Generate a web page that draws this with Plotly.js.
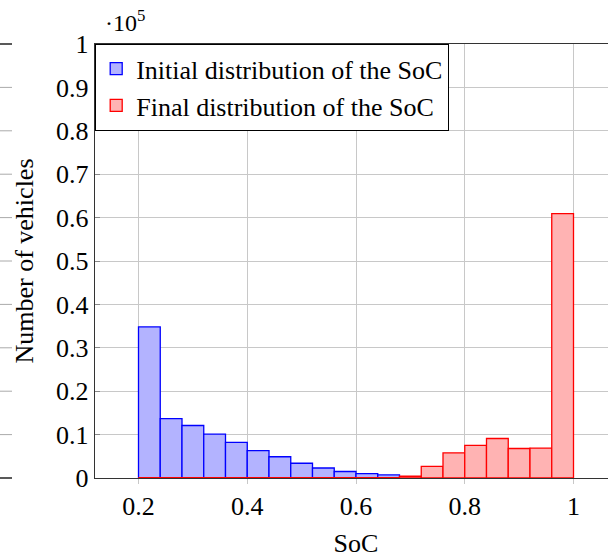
<!DOCTYPE html>
<html>
<head>
<meta charset="utf-8">
<script src="https://cdn.plot.ly/plotly-3.0.1.min.js"></script>
<style>
  html, body { margin: 0; padding: 0; overflow: hidden; background: #fff; }
  #chart { width: 640px; height: 558px; }
</style>
</head>
<body>
<div id="chart"></div>
<script>
// Bin edges of the SoC histogram (width 0.04)
const binEdges = [0.20,0.24,0.28,0.32,0.36,0.40,0.44,0.48,0.52,0.56,0.60,
                  0.64,0.68,0.72,0.76,0.80,0.84,0.88,0.92,0.96,1.00];
// Number of vehicles per bin
const initialCounts = [34800,13700,12100,10100,8200,6300,4900,3400,2300,1500,1000,700,
                       0,0,0,0,0,0,0,0];
const finalCounts   = [0,0,0,0,0,0,0,0,0,0,0,0,
                       400,2700,5800,7500,9100,6800,6900,60900];
// Axis ticks
const xTickVals = [0.2,0.4,0.6,0.8,1];
const xTickText = ['0.2','0.4','0.6','0.8','1'];
const yTickVals = [0,10000,20000,30000,40000,50000,60000,70000,80000,90000,100000];
const yTickText = ['0','0.1','0.2','0.3','0.4','0.5','0.6','0.7','0.8','0.9','1'];
const yScaleLabel = '·10<sup>5</sup>';

const FONT = "'Liberation Serif'";
const centers = binEdges.slice(0,-1).map((e,i)=> (e+binEdges[i+1])/2);
const widths = binEdges.slice(0,-1).map((e,i)=> binEdges[i+1]-e);

// zero-height bins of the final distribution drawn as a baseline
function zeroRuns(counts){
  const xs=[], ys=[];
  let i=0;
  while(i<counts.length){
    if(counts[i]===0){
      let j=i; while(j<counts.length && counts[j]===0) j++;
      xs.push(binEdges[i], binEdges[j], null); ys.push(0,0,null);
      i=j;
    } else i++;
  }
  return {xs, ys};
}
const zf = zeroRuns(finalCounts);

const traces = [
  {type:'bar', x:centers, y:initialCounts, width:widths, name:'Initial distribution of the SoC',
   marker:{color:'rgb(179,179,255)', line:{color:'rgb(0,0,255)', width:1.3}}, cliponaxis:false},
  {type:'bar', x:centers, y:finalCounts, width:widths, name:'Final distribution of the SoC',
   marker:{color:'rgb(255,179,179)', line:{color:'rgb(255,0,0)', width:1.3}}, cliponaxis:false},
  {type:'scatter', mode:'lines', x:zf.xs, y:zf.ys, showlegend:false, hoverinfo:'skip',
   line:{color:'rgb(255,0,0)', width:1.8}, cliponaxis:false}
];

// small tick stubs at the far left edge of the figure
const PW = 522, ML = 95;
const shapes = yTickVals.map((v,i)=>({
  type:'line', xref:'paper', yref:'paper',
  x0:-ML/PW, x1:(12-ML)/PW, y0:v/100000, y1:v/100000,
  line:{color:(i===0||i===yTickVals.length-1)?'#222':'#aaa', width:(i===0||i===yTickVals.length-1)?1.5:1}
}));

const layout = {
  width:640, height:558,
  margin:{l:ML, r:640-ML-PW, t:44, b:80, pad:0},
  paper_bgcolor:'#fff', plot_bgcolor:'#fff',
  barmode:'overlay', bargap:0,
  font:{family:FONT, size:26, color:'#000'},
  xaxis:{range:[0.12,1.08], tickvals:xTickVals, ticktext:xTickText,
         showgrid:true, gridcolor:'#c8c8c8', gridwidth:1,
         showline:true, linecolor:'#333', linewidth:1.2, mirror:true,
         ticks:'outside', ticklen:5, tickcolor:'#c8c8c8', tickwidth:1,
         zeroline:false, layer:'below traces',
         tickfont:{family:FONT, size:26, color:'#000'},
         title:{text:'SoC', font:{family:FONT, size:26, color:'#000'}, standoff:14}},
  xaxis2:{range:[0.12,1.08], overlaying:'x', side:'top', anchor:'y', tickvals:xTickVals,
          showticklabels:false, showgrid:false, showline:false, zeroline:false,
          ticks:'outside', ticklen:11, tickcolor:'#c8c8c8', tickwidth:1},
  yaxis:{range:[0,100000], tickvals:yTickVals, ticktext:yTickText,
         showgrid:true, gridcolor:'#c8c8c8', gridwidth:1,
         showline:true, linecolor:'#333', linewidth:1.2, mirror:true,
         ticks:'inside', ticklen:5, tickcolor:'#888', tickwidth:1,
         zeroline:false, layer:'below traces',
         tickfont:{family:FONT, size:26, color:'#000'},
         title:{text:'Number of vehicles', font:{family:FONT, size:26, color:'#000'}, standoff:15}},
  legend:{x:0, y:1, xanchor:'left', yanchor:'top', bgcolor:'#fff',
          bordercolor:'#000', borderwidth:1.2, traceorder:'normal', tracegroupgap:0,
          font:{family:FONT, size:26, color:'#000'}},
  annotations:[{xref:'paper', yref:'paper', x:8/PW, y:1, xanchor:'left', yanchor:'bottom',
                yshift:6, showarrow:false, text:yScaleLabel,
                font:{family:FONT, size:24, color:'#000'}}],
  shapes:shapes,
  showlegend:true
};

Plotly.newPlot('chart', traces, layout, {staticPlot:true, displayModeBar:false});
</script>
</body>
</html>
